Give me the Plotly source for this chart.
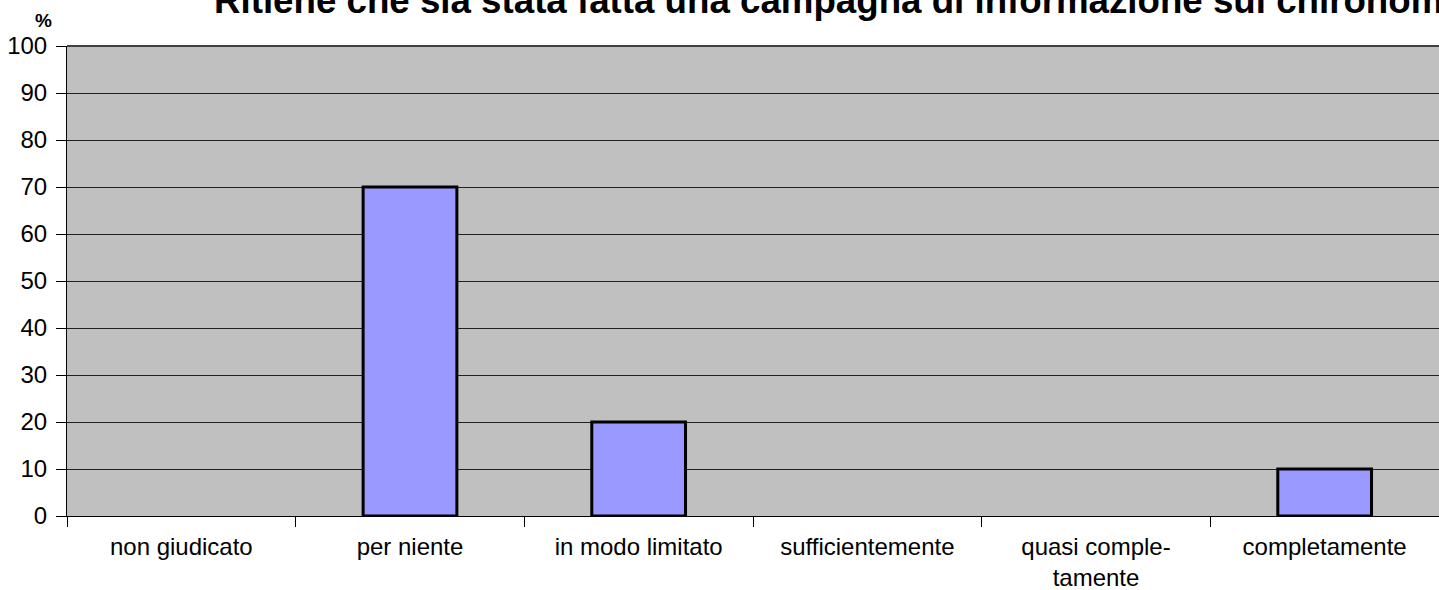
import plotly.graph_objects as go

categories = ["non giudicato", "per niente", "in modo limitato", "sufficientemente",
              "quasi comple-<br>tamente", "completamente"]
values = [0, 70, 20, 0, 0, 10]
y_ticks = list(range(0, 101, 10))
title_text = "Ritiene che sia stata fatta una campagna di informazione sui chironomidi?"

fig = go.Figure(go.Bar(
    x=categories, y=values,
    marker=dict(color="#9999FF",
                line=dict(color="black", width=[3 if v > 0 else 0 for v in values])),
    width=0.41,
))

fig.update_layout(
    width=1439, height=590,
    margin=dict(l=67, r=0, t=46, b=74),
    paper_bgcolor="white",
    plot_bgcolor="#C0C0C0",
    font=dict(family="Liberation Sans, Arial", color="black"),
    showlegend=False,
)
fig.update_xaxes(
    type="category",
    tickson="boundaries",
    ticks="outside", ticklen=10, tickcolor="black", tickwidth=1,
    showline=True, linecolor="black", linewidth=1,
    showgrid=False,
    tickfont=dict(size=24),
    ticklabelstandoff=9,
    automargin=False,
)
fig.update_yaxes(
    range=[0, 100],
    tickvals=y_ticks,
    ticks="outside", ticklen=10, tickcolor="black", tickwidth=1,
    showline=True, linecolor="black", linewidth=1,
    showgrid=True, gridcolor="#202020", gridwidth=1,
    zeroline=False,
    tickfont=dict(size=24),
    ticklabelstandoff=4,
    automargin=False,
)
fig.add_annotation(
    text="<b>" + title_text + "</b>",
    xref="paper", yref="paper", x=(212 - 67) / 1372, y=1,
    xanchor="left", yanchor="bottom", yshift=23,
    showarrow=False, font=dict(size=36.7, color="black"),
)
fig.add_annotation(
    text="<b>%</b>",
    xref="paper", yref="paper", x=(43 - 67) / 1372, y=1,
    xanchor="center", yanchor="middle", yshift=26,
    showarrow=False, font=dict(size=19, color="black"),
)
fig.add_shape(type="line", xref="paper", yref="paper", x0=0, x1=1, y0=1, y1=1,
              line=dict(color="#404040", width=2))

fig.write_html("out.html", config={"displayModeBar": False},
               post_script="document.body.style.margin='0';")
